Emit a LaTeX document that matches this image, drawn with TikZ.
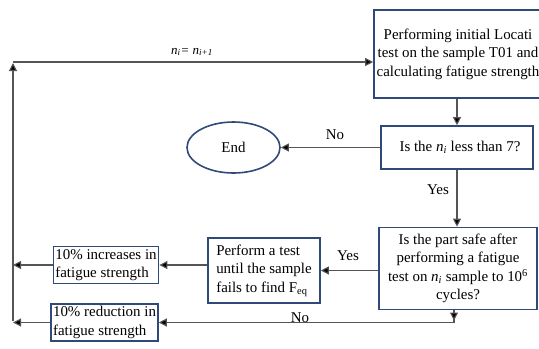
\documentclass[tikz,border=0pt]{standalone}
\usepackage{fontspec}
\setmainfont{Liberation Serif}
\usetikzlibrary{arrows.meta,shapes.geometric}
\definecolor{navy}{RGB}{47,74,120}
\definecolor{conn}{RGB}{85,85,85}
\tikzset{
  box/.style={draw=navy, line width=1.6bp, rectangle, inner sep=2bp,
    font={\fontsize{15}{18.5}\selectfont}},
  cbox/.style={box, align=center},
  lbox/.style={box, align=left},
  arr/.style={draw=conn, line width=1.1bp, -{Triangle[length=8bp,width=8bp,fill=black]}},
  ln/.style={draw=conn, line width=1.1bp},
  lbl/.style={font={\fontsize{15}{18}\selectfont}, inner sep=0pt}
}
\begin{document}
\begin{tikzpicture}[x=1bp,y=-1bp]
\useasboundingbox (0,0) rectangle (539,348);
% nodes
\node[cbox, minimum width=168bp, minimum height=88bp] (top) at (458,54)
  {Performing initial Locati\\test on the sample T01 and\\calculating fatigue strength};
\node[cbox, minimum width=152bp, minimum height=43bp] (q1) at (457,147.5)
  {\hspace{6bp}Is the \textit{n\textsubscript{i}} less than 7?};
\node[draw=navy, line width=1.6bp, ellipse, minimum width=93bp, minimum height=51bp,
  inner sep=0pt, font={\fontsize{15}{18}\selectfont}] (end) at (233.5,147.5) {End};
\node[cbox, minimum width=158bp, minimum height=82bp] (q3) at (458,268.5)
  {Is the part safe after\\performing a fatigue\\test on \textit{n\textsubscript{i}} sample to 10\textsuperscript{6}\\cycles?};
\node[lbox, minimum width=112bp, minimum height=65bp] (perf) at (264,270.5)
  {Perform a test\\until the sample\\fails to find F\textsubscript{eq}};
\node[lbox, minimum width=104bp, minimum height=37bp] (inc) at (106,265)
  {10\% increases in\\fatigue strength};
\node[lbox, minimum width=105bp, minimum height=37bp] (red) at (104.5,322.5)
  {10\% reduction in\\fatigue strength};
% helper coordinates
\coordinate (lb) at (13,321);
\coordinate (lt) at (13,62);
\coordinate (bc) at (454,322.5);
% connectors
\draw[arr] (top.south -| q1.north) -- (q1.north);
\draw[arr] (q1.west) -- (end.east);
\node[lbl] (no1) at (335,135) {No};
\draw[arr] (q1.south) -- (q1.south |- q3.north);
\node[lbl] (yes1) at (438,190) {Yes};
\draw[arr] (q3.west |- perf.east) -- (perf.east);
\node[lbl] (yes2) at (348,256) {Yes};
\draw[arr] (perf.west |- inc.east) -- (inc.east);
\draw[arr] (inc.west) -- (inc.west -| lb);
\draw[ln] (q3.south -| bc) -- (bc);
\draw[arr] (q3.south -| bc) -- ([yshift=2bp]bc);
\draw[arr] (bc) -- (red.east);
\node[lbl] (no2) at (300,318) {No};
\draw[arr] (red.west) -- (red.west -| lb);
\draw[arr] (lb) -- ([yshift=-1bp]lt);
\draw[arr] (lt) -- (lt -| top.west);
\node[font={\fontsize{13}{15}\selectfont}, inner sep=0pt] (nlab) at (192,52)
  {\textit{n}\textsubscript{\textit{i}}\textit{= n}\textsubscript{\textit{i+1}}};
\end{tikzpicture}
\end{document}
